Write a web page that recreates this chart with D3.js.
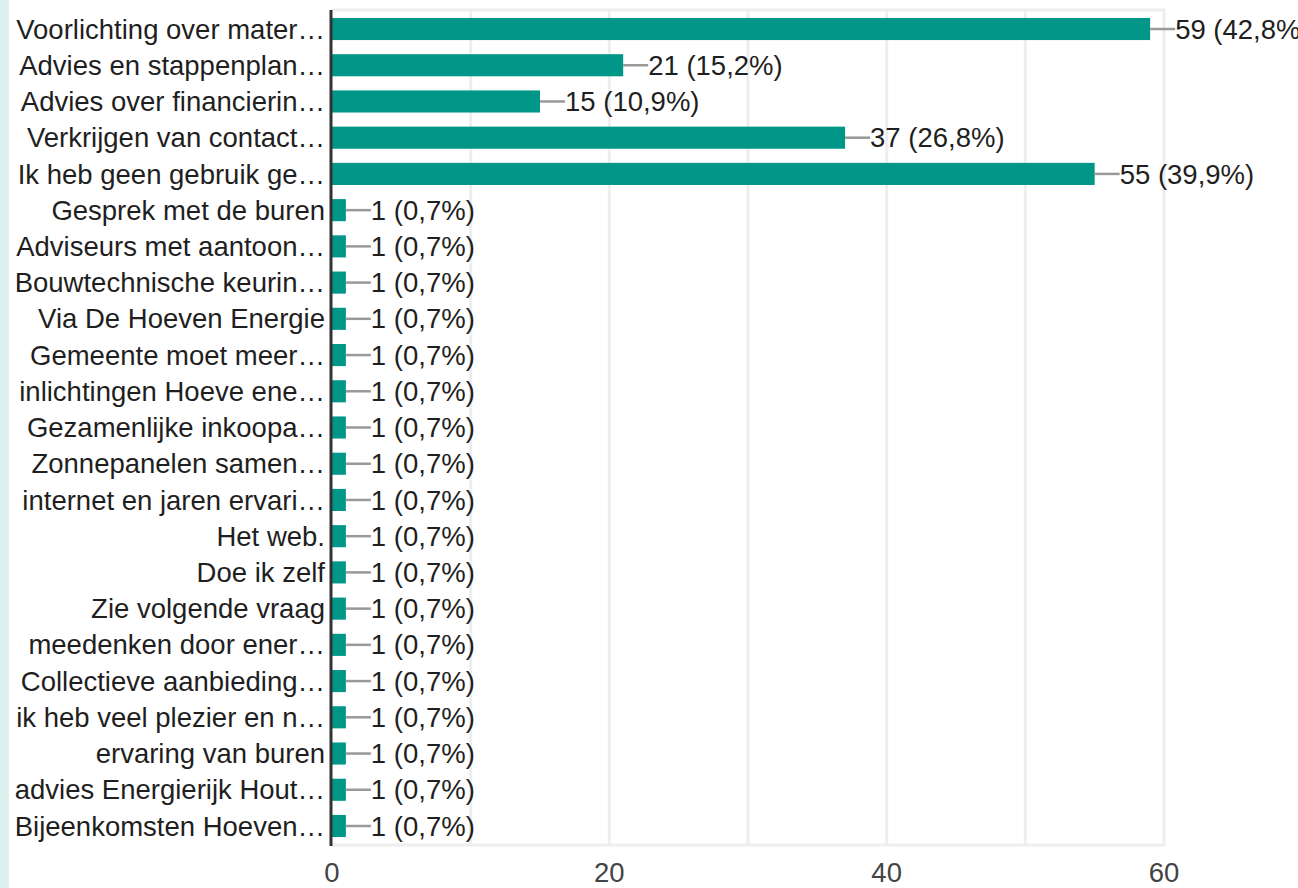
<!DOCTYPE html>
<html>
<head>
<meta charset="utf-8">
<script src="https://cdn.jsdelivr.net/npm/d3@7"></script>
<style>
  html, body { margin: 0; padding: 0; background: #fff; }
  svg { display: block; font-family: "Liberation Sans", Arial, sans-serif; }
</style>
</head>
<body>
<div id="chart"></div>
<script>
// answers (labels are truncated the way the form summary shows them)
const categories = [
    'Voorlichting over mater\u2026',
    'Advies en stappenplan\u2026',
    'Advies over financierin\u2026',
    'Verkrijgen van contact\u2026',
    'Ik heb geen gebruik ge\u2026',
    'Gesprek met de buren',
    'Adviseurs met aantoon\u2026',
    'Bouwtechnische keurin\u2026',
    'Via De Hoeven Energie',
    'Gemeente moet meer\u2026',
    'inlichtingen Hoeve ene\u2026',
    'Gezamenlijke inkoopa\u2026',
    'Zonnepanelen samen\u2026',
    'internet en jaren ervari\u2026',
    'Het web.',
    'Doe ik zelf',
    'Zie volgende vraag',
    'meedenken door ener\u2026',
    'Collectieve aanbieding\u2026',
    'ik heb veel plezier en n\u2026',
    'ervaring van buren',
    'advies Energierijk Hout\u2026',
    'Bijeenkomsten Hoeven\u2026'
];
const counts = [59, 21, 15, 37, 55, 1, 1, 1, 1, 1, 1, 1, 1, 1, 1, 1, 1, 1, 1, 1, 1, 1, 1];
const percents = ['42,8%', '15,2%', '10,9%', '26,8%', '39,9%',
    '0,7%', '0,7%', '0,7%', '0,7%', '0,7%', '0,7%', '0,7%', '0,7%', '0,7%',
    '0,7%', '0,7%', '0,7%', '0,7%', '0,7%', '0,7%', '0,7%', '0,7%', '0,7%'];
const xTicks = [0, 20, 40, 60];
const xGrid = [10, 20, 30, 40, 50, 60];

const width = 1298, height = 888;
const plot = { left: 332, right: 1164, top: 10, bottom: 845 };
const fontSize = 27.5;

let svg = d3.select('#chart').append('svg')
    .attr('width', width)
    .attr('height', height);

// light strip on the far left (page edge)
svg.append('rect')
    .attr('x', 0).attr('y', 0)
    .attr('width', 8).attr('height', height)
    .attr('fill', '#dcefef');
svg.append('line')
    .attr('x1', 8.5).attr('x2', 8.5)
    .attr('y1', 0).attr('y2', height)
    .attr('stroke', '#e6eeee');

let x = d3.scaleLinear().domain([0, 60]).range([plot.left, plot.right]);
let y = d3.scaleBand()
    .domain(categories)
    .range([plot.top, plot.bottom])
    .paddingInner(0.39)
    .paddingOuter(0.22);

// frame + gridlines
svg.append('g')
    .selectAll('line')
    .data(xGrid)
    .enter()
    .append('line')
    .attr('x1', d => x(d)).attr('x2', d => x(d))
    .attr('y1', plot.top).attr('y2', plot.bottom)
    .attr('stroke', '#eeeeee')
    .attr('stroke-width', 3);

svg.append('line')
    .attr('x1', plot.left).attr('x2', plot.right + 1.5)
    .attr('y1', plot.top).attr('y2', plot.top)
    .attr('stroke', '#eeeeee')
    .attr('stroke-width', 3);
svg.append('line')
    .attr('x1', plot.left).attr('x2', plot.right + 1.5)
    .attr('y1', plot.bottom).attr('y2', plot.bottom)
    .attr('stroke', '#eeeeee')
    .attr('stroke-width', 3);

// bars
let rows = svg.append('g')
    .selectAll('g')
    .data(categories)
    .enter()
    .append('g');

rows.append('rect')
    .attr('x', x(0))
    .attr('y', d => y(d))
    .attr('width', (d, i) => x(counts[i]) - x(0))
    .attr('height', y.bandwidth())
    .attr('fill', '#009688');

// leader line + value label
rows.append('line')
    .attr('x1', (d, i) => x(counts[i]))
    .attr('x2', (d, i) => x(counts[i]) + 25)
    .attr('y1', d => y(d) + y.bandwidth() / 2)
    .attr('y2', d => y(d) + y.bandwidth() / 2)
    .attr('stroke', '#999999')
    .attr('stroke-width', 2.5);

rows.append('text')
    .attr('x', (d, i) => x(counts[i]) + 25)
    .attr('y', d => y(d) + y.bandwidth() / 2)
    .attr('dy', '0.35em')
    .attr('font-size', fontSize)
    .attr('fill', '#1f1f1f')
    .text((d, i) => counts[i] + ' (' + percents[i] + ')');

// category labels
rows.append('text')
    .attr('x', plot.left - 7)
    .attr('y', d => y(d) + y.bandwidth() / 2)
    .attr('dy', '0.35em')
    .attr('text-anchor', 'end')
    .attr('font-size', fontSize)
    .attr('fill', '#1f1f1f')
    .text(d => d);

// baseline axis
svg.append('line')
    .attr('x1', plot.left - 1).attr('x2', plot.left - 1)
    .attr('y1', plot.top).attr('y2', plot.bottom + 1)
    .attr('stroke', '#333333')
    .attr('stroke-width', 3);

// x tick labels
svg.append('g')
    .selectAll('text')
    .data(xTicks)
    .enter()
    .append('text')
    .attr('x', d => x(d))
    .attr('y', 882)
    .attr('text-anchor', 'middle')
    .attr('font-size', fontSize)
    .attr('fill', '#444444')
    .text(d => d);
</script>
</body>
</html>
